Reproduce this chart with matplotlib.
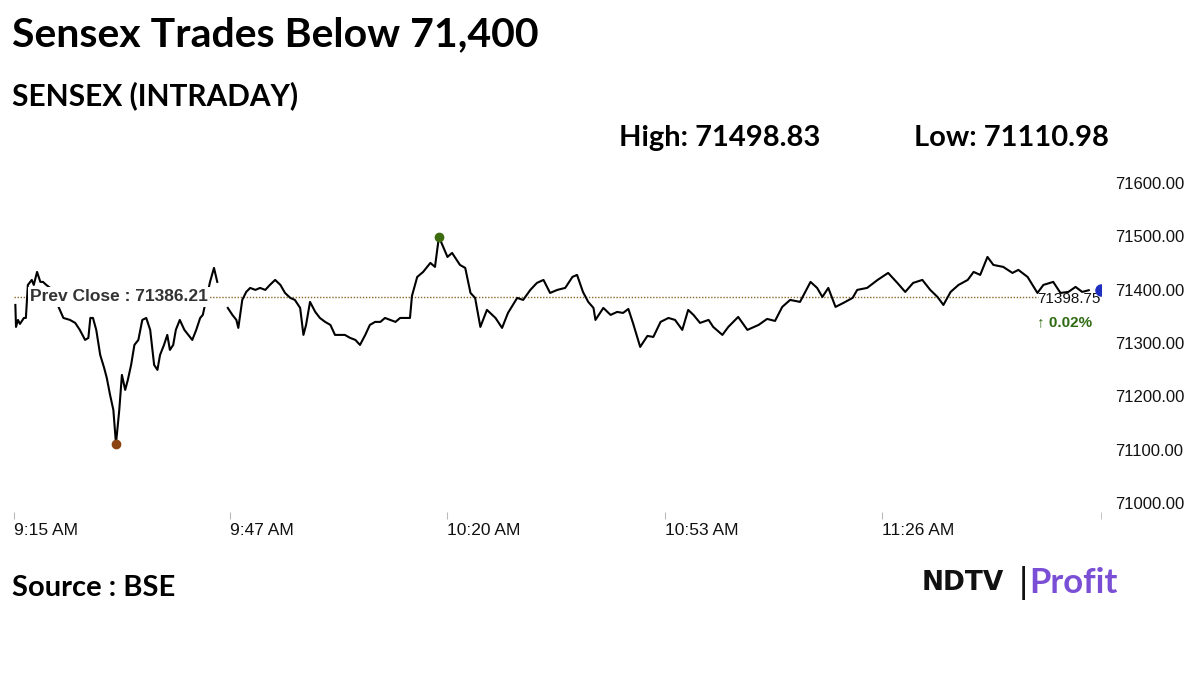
import numpy as np
import matplotlib
matplotlib.use("Agg")
import matplotlib.pyplot as plt

# minutes since 9:15 AM
minutes = [0.2,0.3,0.6,0.9,1.5,1.8,2.1,2.7,3.0,3.5,4.0,4.4,4.9,5.5,7.5,8.5,9.3,10.0,10.8,11.3,11.6,12.0,12.5,13.1,13.7,14.1,14.6,15.1,15.5,16.0,16.4,16.9,17.3,17.8,18.3,18.9,19.5,20.1,20.7,21.3,21.8,22.2,22.8,23.3,23.7,24.2,24.6,25.2,25.9,26.5,27.1,27.7,28.3,28.7,29.8,30.4,30.9,31.7,
 32.5,33.2,33.8,34.1,34.7,35.3,35.9,36.7,37.4,38.2,38.9,39.7,40.5,41.2,42.0,42.7,43.5,44.0,44.4,45.0,45.8,46.5,47.3,48.1,48.8,49.6,50.3,51.1,51.9,52.6,53.4,54.1,54.9,55.7,56.4,57.2,58.0,58.7,60.2,60.5,61.3,62.2,63.3,64.0,64.6,65.9,66.6,67.8,68.6,69.4,70.1,70.9,71.9,73.2,74.2,75.1,76.5,77.4,78.5,79.5,80.5,81.5,82.6,83.8,84.9,85.6,86.5,87.3,88.1,88.4,89.6,90.7,91.7,92.6,93.4,94.1,95.2,96.3,97.2,98.3,99.5,100.5,101.6,102.5,103.3,104.3,105.6,106.3,107.7,108.6,110.1,111.5,113.2,114.5,115.7,116.8,118.0,119.5,120.3,121.1,122.1,122.9,123.8,124.9,126.1,127.5,128.2,129.7,131.3,132.9,134.3,135.5,136.7,138.1,139.3,140.4,141.3,142.4,143.6,145.0,145.9,146.9,148.0,148.9,150.4,151.8,152.7,154.1,155.6,156.5,158.0,159.1,160.3,161.4,162.4,163.4]
values = [71371.2,71330.0,71343.1,71335.6,71346.8,71346.8,71408.7,71418.1,71408.7,71433.1,71414.4,71414.4,71408.7,71403.1,71346.8,71343.1,71337.5,71324.4,71305.6,71309.4,71346.8,71346.8,71324.4,71277.5,71253.1,71234.4,71202.5,71174.4,71110.98,71174.4,71240.0,71211.9,71230.6,71258.8,71296.2,71305.6,71343.1,71346.8,71324.4,71258.8,71249.4,71277.5,71296.2,71315.0,71286.9,71296.2,71324.4,71343.1,71324.4,71315.0,71305.6,71324.4,71346.8,71352.5,71414.4,71440.6,71414.4,np.nan,
 71365.6,71352.5,71343.1,71328.1,71380.6,71395.6,71403.1,71399.4,71403.1,71399.4,71408.7,71418.1,71408.7,71393.7,71384.4,71380.6,71365.6,71315.0,71333.7,71376.9,71358.1,71346.8,71339.4,71333.7,71315.0,71315.0,71315.0,71309.4,71305.6,71296.2,71315.0,71333.7,71339.4,71339.4,71346.8,71343.1,71339.4,71346.8,71346.8,71388.1,71423.7,71433.1,71450.0,71442.5,71498.83,71461.2,71468.7,71446.2,71440.6,71393.7,71384.4,71330.0,71361.9,71346.8,71328.1,71356.2,71384.4,71380.6,71399.4,71412.5,71418.1,71393.7,71399.4,71403.1,71423.7,71427.5,71395.6,71376.9,71365.6,71343.1,71365.6,71352.5,71358.1,71356.2,71363.7,71337.5,71292.5,71313.1,71311.2,71339.4,71346.8,71343.1,71324.4,71361.9,71352.5,71337.5,71343.1,71330.0,71315.0,71330.0,71348.7,71324.4,71333.7,71345.0,71341.2,71367.5,71380.6,71376.9,71395.6,71414.4,71403.1,71386.2,71403.1,71367.5,71375.0,71384.4,71399.4,71403.1,71418.1,71431.2,71412.5,71395.6,71412.5,71418.1,71399.4,71386.2,71371.2,71395.6,71408.7,71418.1,71433.1,71427.5,71461.2,71446.2,71442.5,71431.2,71436.9,71423.7,71393.7,71408.7,71414.4,71393.7,71395.6,71405.0,71395.6,71398.75]
prev_close = 71386.21
high_val = 71498.83
low_val = 71110.98
last_val = 71398.75
change_pct = "0.02%"
x_tick_pos = [0, 32.9, 65.9, 98.9, 131.9]
x_tick_labels = ["9:15 AM", "9:47 AM", "10:20 AM", "10:53 AM", "11:26 AM"]
y_ticks = [71000, 71100, 71200, 71300, 71400, 71500, 71600]

minutes = np.array(minutes); values = np.array(values)

fig = plt.figure(figsize=(12, 6.75), dpi=100)
fig.patch.set_facecolor("white")
ax = fig.add_axes([0.0117, 0.2415, 0.906, 0.5065])
ax.plot(minutes, values, color="black", lw=1.5, zorder=3)
ax.set_xlim(0, 165.3)
ax.set_ylim(70983, 71624)
ax.axhline(prev_close, xmin=0, xmax=0.942, color="#8a6a2a", lw=1, ls=(0, (1, 1.2)), zorder=2)

ih = np.nanargmax(values); il = np.nanargmin(values)
ax.plot(minutes[ih], values[ih], 'o', color="#3d6b10", ms=6, zorder=4)
ax.plot(minutes[il], values[il], 'o', color="#8b4513", ms=6, zorder=4)
ax.plot(165.3, last_val, 'o', color="#1f2fbf", ms=8, zorder=7, clip_on=True)

ax.text(2.4, prev_close, "Prev Close : " + f"{prev_close:.2f}", fontsize=12.5, color="#333333",
        fontfamily="Liberation Sans", fontweight="bold", va="center", ha="left", zorder=5,
        bbox=dict(facecolor="white", edgecolor="none", pad=1.5))
ax.text(155.6, last_val - 17, f"{last_val:.2f}", fontsize=11, color="#111111",
        fontfamily="Liberation Sans", va="center", ha="left", zorder=6)
ax.text(155.6, last_val - 60, "\u2191 " + change_pct, fontsize=11, color="#2e6b12",
        fontfamily="Liberation Sans", va="center", ha="left", fontweight="bold")

for s in ["top", "left", "right", "bottom"]:
    ax.spines[s].set_visible(False)
ax.set_xticks(x_tick_pos)
ax.set_xticklabels(x_tick_labels, ha="left", fontsize=12.5, fontfamily="Liberation Sans", color="#111111")
ax.tick_params(axis="x", length=5, color="#bbbbbb", pad=3)
ax.yaxis.tick_right()
ax.set_yticks(y_ticks)
ax.set_yticklabels([f"{v:.2f}" for v in y_ticks], fontsize=12, fontfamily="Liberation Sans", color="#111111")
ax.tick_params(axis="y", length=0, pad=10)
ax.set_xticks([165.3], minor=True)
ax.tick_params(axis="x", which="minor", length=5, color="#bbbbbb")

fig.text(0.01, 0.948, "Sensex Trades Below 71,400", fontsize=29.5, fontweight="bold", fontfamily="Lato", va="center")
fig.text(0.01, 0.858, "SENSEX (INTRADAY)", fontsize=21.5, fontweight="bold", fontfamily="Lato", va="center")
fig.text(0.516, 0.796, f"High: {high_val:.2f}", fontsize=21, fontweight="bold", fontfamily="Lato", va="center")
fig.text(0.762, 0.796, f"Low: {low_val:.2f}", fontsize=21, fontweight="bold", fontfamily="Lato", va="center")
fig.text(0.01, 0.129, "Source : BSE", fontsize=21, fontweight="bold", fontfamily="Lato", va="center")
fig.text(0.768, 0.136, "NDTV", fontsize=19, fontweight="heavy", fontfamily="DejaVu Sans", va="center", color="#111111")
fig.text(0.848, 0.136, "|", fontsize=24, fontfamily="DejaVu Sans", va="center", color="#111111")
fig.text(0.858, 0.136, "Profit", fontsize=25, fontweight="bold", fontfamily="Lato", va="center", color="#7a4fd6")

fig.savefig("out.png", dpi=100, facecolor="white")
